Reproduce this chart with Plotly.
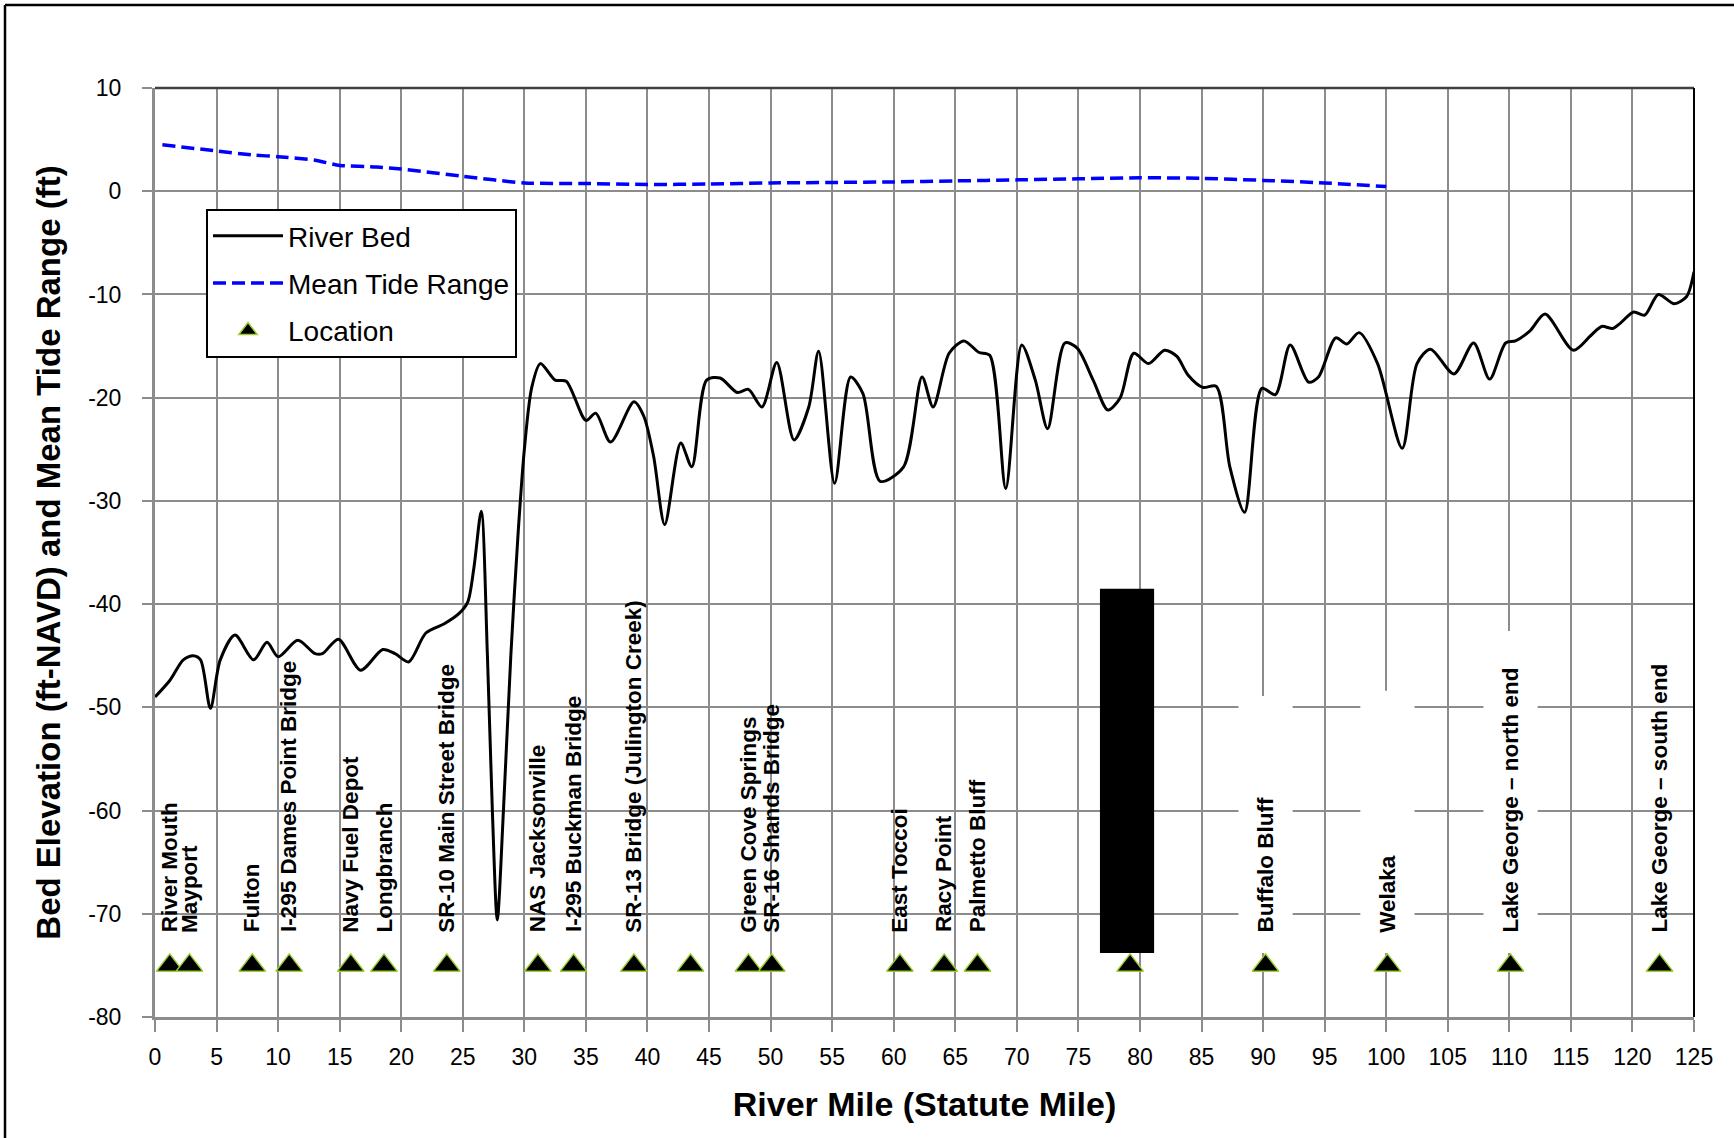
import plotly.graph_objects as go

# ---------------- data ----------------
bed_mile = [0, 1.2, 2.3, 3.1, 3.7, 4.5, 5.3, 6.5, 8.0, 9.1, 10.0, 11.6, 13.0, 13.6, 14.9,
            16.7, 18.5, 19.5, 20.6, 22.0, 23.5, 24.7, 25.4, 25.9, 26.5, 27.0, 27.4, 27.8,
            28.3, 28.9, 29.5, 30.0, 30.6, 31.3, 32.5, 33.4, 35.0, 35.8, 37.0, 38.9, 39.7,
            40.5, 41.4, 42.7, 43.6, 44.8, 45.9, 47.3, 48.2, 49.3, 50.5, 51.9, 53.1, 53.9,
            55.2, 56.5, 57.5, 58.9, 60.8, 62.3, 63.2, 64.5, 65.7, 66.9, 67.8, 69.1, 70.4,
            71.5, 72.5, 73.9, 74.9, 76.2, 77.4, 78.4, 79.5, 80.7, 82.0, 83.0, 83.9, 85.1,
            86.2, 87.3, 88.5, 89.9, 91.0, 92.2, 93.7, 94.5, 95.9, 96.8, 97.8, 99.3, 101.3,
            102.5, 103.6, 105.5, 107.1, 108.4, 109.7, 110.5, 111.7, 112.9, 115.2, 116.6,
            117.5, 118.4, 119.0, 120.1, 121.0, 122.1, 123.4, 124.4, 125.0]
bed_elev = [-49.0, -47.4, -45.4, -45.0, -45.4, -50.1, -45.4, -43.0, -45.4, -43.7, -45.1, -43.5,
            -44.8, -44.8, -43.4, -46.4, -44.4, -44.8, -45.6, -42.8, -41.9, -40.9, -39.8, -36.5,
            -31.0, -45.0, -60.0, -70.6, -60.0, -45.0, -33.0, -25.0, -19.0, -16.7, -18.3, -18.4,
            -22.2, -21.5, -24.3, -20.4, -21.8, -25.7, -32.3, -24.4, -26.7, -18.3, -18.1, -19.5,
            -19.2, -20.9, -16.6, -24.1, -20.9, -15.5, -28.3, -18.0, -19.6, -28.1, -26.7, -18.0,
            -20.9, -15.7, -14.5, -15.6, -15.9, -28.8, -14.9, -18.3, -23.0, -14.7, -15.2, -18.3,
            -21.2, -20.0, -15.7, -16.7, -15.4, -16.0, -17.8, -19.0, -18.9, -26.7, -31.1, -19.1,
            -19.7, -14.9, -18.5, -18.0, -14.2, -14.8, -13.7, -16.7, -24.9, -16.7, -15.3, -17.7,
            -14.7, -18.2, -14.7, -14.5, -13.5, -11.9, -15.4, -14.0, -13.1, -13.3, -12.8, -11.7,
            -12.0, -10.0, -10.9, -10.2, -7.8]

tide_mile = [0.6, 5, 8, 10, 13, 15, 18, 20, 25, 30, 35, 40, 45, 50, 55, 60, 65, 70, 75, 80,
             85, 90, 95, 100]
tide_range = [4.5, 3.9, 3.5, 3.35, 3.0, 2.5, 2.35, 2.15, 1.45, 0.8, 0.75, 0.65, 0.7, 0.8,
              0.85, 0.9, 1.0, 1.1, 1.2, 1.3, 1.25, 1.05, 0.8, 0.45]

loc_mile = [1.2, 2.8, 7.9, 10.9, 15.9, 18.6, 23.7, 31.1, 34.0, 38.9, 43.5, 48.2, 50.1,
            60.5, 64.1, 66.8, 79.2, 90.2, 100.1, 110.1, 122.2]
loc_label = ["River Mouth", "Mayport", "Fulton", "I-295 Dames Point Bridge", "Navy Fuel Depot",
             "Longbranch", "SR-10 Main Street Bridge", "NAS Jacksonville", "I-295 Buckman Bridge",
             "SR-13 Bridge (Julington Creek)", "", "Green Cove Springs", "SR-16 Shands Bridge",
             "East Toccoi", "Racy Point", "Palmetto Bluff", "", "Buffalo Bluff", "Welaka",
             "Lake George – north end", "Lake George – south end"]
# label box style for each location: None, "white" (opaque text box) or "black" (blacked-out box)
loc_box = [None, None, None, None, None, None, None, None, None, None, None, None, None,
           None, None, None, "black", "white", "white", "white", None]
loc_box_top = [None, None, None, None, None, None, None, None, None, None, None, None, None,
               None, None, None, -38.5, -48.9, -48.4, -42.6, None]
loc_level = -75.0
label_bottom = -72.0
box_bottom = -73.8
box_halfwidth = 2.2

x_ticks = list(range(0, 126, 5))
y_ticks = list(range(-80, 11, 10))

FONT = "Liberation Sans, Arial, sans-serif"
W, H = 1734, 1138
ML, MR, MT, MB = 155, 40, 88, 121

fig = go.Figure()
fig.add_trace(go.Scatter(
    x=bed_mile, y=bed_elev, mode="lines", name="River Bed", legendgroup="a",
    line=dict(color="black", width=3, shape="spline", smoothing=0.8)))
fig.add_trace(go.Scatter(
    x=tide_mile, y=tide_range, mode="lines", name="Mean Tide Range", legendgroup="b",
    line=dict(color="#0000ff", width=3.5, dash="13px,6px", shape="spline", smoothing=0.6)))
fig.add_trace(go.Scatter(
    x=loc_mile, y=[loc_level] * len(loc_mile), mode="markers", name="Location", legendgroup="c",
    marker=dict(symbol="triangle-up", size=23, color="black",
                line=dict(color="#9acd32", width=1.5))))

shapes = []
for xm, kind, top in zip(loc_mile, loc_box, loc_box_top):
    if kind is None:
        continue
    shift = -0.25 if kind == "black" else 0.0
    shapes.append(dict(
        type="rect", xref="x", yref="y",
        x0=xm - box_halfwidth + shift, x1=xm + box_halfwidth + shift, y0=box_bottom, y1=top,
        fillcolor="white" if kind == "white" else "black",
        line=dict(width=0), layer="between" if kind == "white" else "above"))

# plot-area border (top dark, right black) and outer picture frame (left/top)
shapes.append(dict(type="line", xref="paper", yref="paper", x0=0, x1=1, y0=1, y1=1,
                   line=dict(color="#404040", width=2.5)))
shapes.append(dict(type="line", xref="paper", yref="paper", x0=1, x1=1, y0=0, y1=1,
                   line=dict(color="black", width=2)))
pw = W - ML - MR
ph = H - MT - MB
fx0 = (5 - ML) / pw
fx1 = (W - ML) / pw
fy1 = (H - MB - 5) / ph
fy0 = -(MB) / ph
shapes.append(dict(type="line", xref="paper", yref="paper", x0=fx0, x1=fx0, y0=fy0, y1=fy1,
                   line=dict(color="black", width=2.5)))
shapes.append(dict(type="line", xref="paper", yref="paper", x0=fx0, x1=fx1, y0=fy1, y1=fy1,
                   line=dict(color="black", width=2.5)))

annotations = []
for xm, lab in zip(loc_mile, loc_label):
    if not lab:
        continue
    annotations.append(dict(
        x=xm, y=label_bottom, xref="x", yref="y", text="<b>" + lab + "</b>",
        textangle=-90, showarrow=False, xanchor="center", yanchor="bottom",
        font=dict(family=FONT, size=22.5, color="black")))

fig.update_layout(
    width=W, height=H,
    margin=dict(l=ML, r=MR, t=MT, b=MB),
    paper_bgcolor="white", plot_bgcolor="white",
    font=dict(family=FONT, color="black"),
    shapes=shapes, annotations=annotations,
    showlegend=True,
    legend=dict(x=(206 - ML) / pw, y=(H - MB - 209) / ph, xanchor="left", yanchor="top",
                bgcolor="white", bordercolor="black", borderwidth=2,
                font=dict(family=FONT, size=28, color="black"),
                itemwidth=70, tracegroupgap=8, traceorder="grouped"),
    xaxis=dict(range=[0, 125], tickvals=x_ticks, ticktext=[str(v) for v in x_ticks],
               showgrid=True, gridcolor="#8c8c8c", gridwidth=1.5,
               showline=True, linecolor="#8c8c8c", linewidth=3,
               ticks="outside", ticklen=12, tickcolor="#8c8c8c", tickwidth=1.5,
               ticklabelstandoff=5, zeroline=False,
               tickfont=dict(family=FONT, size=23, color="black"),
               title=dict(text="<b>River Mile (Statute Mile)</b>", standoff=24,
                          font=dict(family=FONT, size=34, color="black"))),
    yaxis=dict(range=[-80, 10], tickvals=y_ticks, ticktext=[str(v) for v in y_ticks],
               showgrid=True, gridcolor="#8c8c8c", gridwidth=1.5,
               showline=True, linecolor="#8c8c8c", linewidth=3,
               ticks="outside", ticklen=10, tickcolor="#8c8c8c", tickwidth=1.5,
               ticklabelstandoff=16, zeroline=False,
               tickfont=dict(family=FONT, size=23, color="black"),
               title=dict(text="<b>Bed Elevation (ft-NAVD) and Mean Tide Range (ft)</b>",
                          standoff=18, font=dict(family=FONT, size=33, color="black"))),
)

fig.write_html("out.html")
